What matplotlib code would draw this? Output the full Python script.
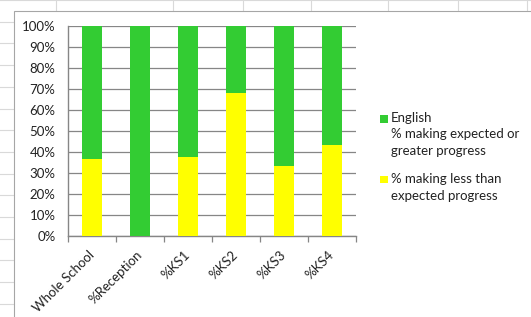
import matplotlib
matplotlib.use("Agg")
import matplotlib.pyplot as plt
from matplotlib.lines import Line2D
from matplotlib.patches import Rectangle
from matplotlib.transforms import ScaledTranslation

categories = ["Whole School", "%Reception", "%KS1", "%KS2", "%KS3", "%KS4"]
less_than_expected = [36.5, 0.0, 37.6, 68.1, 33.5, 43.3]
expected_or_greater = [100 - v for v in less_than_expected]

series_labels = [
    "English\n% making expected or\ngreater progress",
    "% making less than\nexpected progress",
]
GREEN = "#33cc33"
YELLOW = "#ffff00"
GRID = "#868686"
TEXT = "#222222"
FS = 9.5

W, H = 531, 317
plt.rcParams["font.family"] = ["Lato", "DejaVu Sans"]

fig = plt.figure(figsize=(W / 100, H / 100), dpi=100)

# spreadsheet cells behind the chart
for k in range(15):
    y = 1 - k * 21.7 / H
    fig.add_artist(Line2D([0, 1], [y, y], transform=fig.transFigure,
                          color="#d9d9d9", lw=0.8, zorder=-3))
for x in [56, 172.5, 242.5, 311, 388, 458, 527]:
    fig.add_artist(Line2D([x / W, x / W], [0, 1], transform=fig.transFigure,
                          color="#d9d9d9", lw=0.8, zorder=-3))
# chart area
fig.add_artist(Rectangle((14 / W, -0.1), 1.2, 1.1 - 10.7 / H, transform=fig.transFigure,
                         facecolor="white", edgecolor="#a6a6a6", lw=0.8, zorder=-2))

ax = fig.add_axes([68 / W, 1 - 236 / H, 288 / W, 210 / H])
x = list(range(len(categories)))
ax.bar(x, less_than_expected, width=0.41, color=YELLOW, zorder=3)
ax.bar(x, expected_or_greater, width=0.41, bottom=less_than_expected, color=GREEN, zorder=3)

ax.set_xlim(-0.5, len(categories) - 0.5)
ax.set_ylim(0, 100)
ax.set_yticks(range(0, 101, 10))
ax.set_yticklabels([f"{v}%" for v in range(0, 101, 10)])
ax.yaxis.grid(True, color=GRID, lw=0.9, zorder=0)
ax.set_axisbelow(True)
ax.tick_params(axis="y", length=0, pad=9, labelsize=FS, labelcolor=TEXT)

ax.set_xticks(x)
ax.set_xticklabels(categories, rotation=45, ha="right", va="top", rotation_mode="anchor")
ax.set_xticks([i - 0.5 for i in range(len(categories) + 1)], minor=True)
ax.tick_params(axis="x", which="major", length=0, pad=9, labelsize=FS, labelcolor=TEXT)
ax.tick_params(axis="x", which="minor", length=4, width=0.9, color=GRID, direction="out")
shift = ScaledTranslation(-4 / 100, 0, fig.dpi_scale_trans)
for lbl in ax.get_xticklabels():
    lbl.set_transform(lbl.get_transform() + shift)

for side in ["top", "right"]:
    ax.spines[side].set_visible(False)
for side in ["left", "bottom"]:
    ax.spines[side].set_color(GRID)
    ax.spines[side].set_linewidth(1.0)

# legend, first line aligned with the marker like Excel
legend_rows = [(series_labels[0], GREEN, 115), (series_labels[1], YELLOW, 176)]
for label, color, ytop in legend_rows:
    fig.add_artist(Rectangle((380 / W, 1 - (ytop + 7.5) / H), 7.5 / W, 7.5 / H,
                             transform=fig.transFigure, facecolor=color, edgecolor="none"))
    fig.text(391 / W, 1 - (ytop - 3) / H, label, ha="left", va="top", fontsize=FS,
             color=TEXT, linespacing=1.45)

fig.savefig("out.png", dpi=100)
